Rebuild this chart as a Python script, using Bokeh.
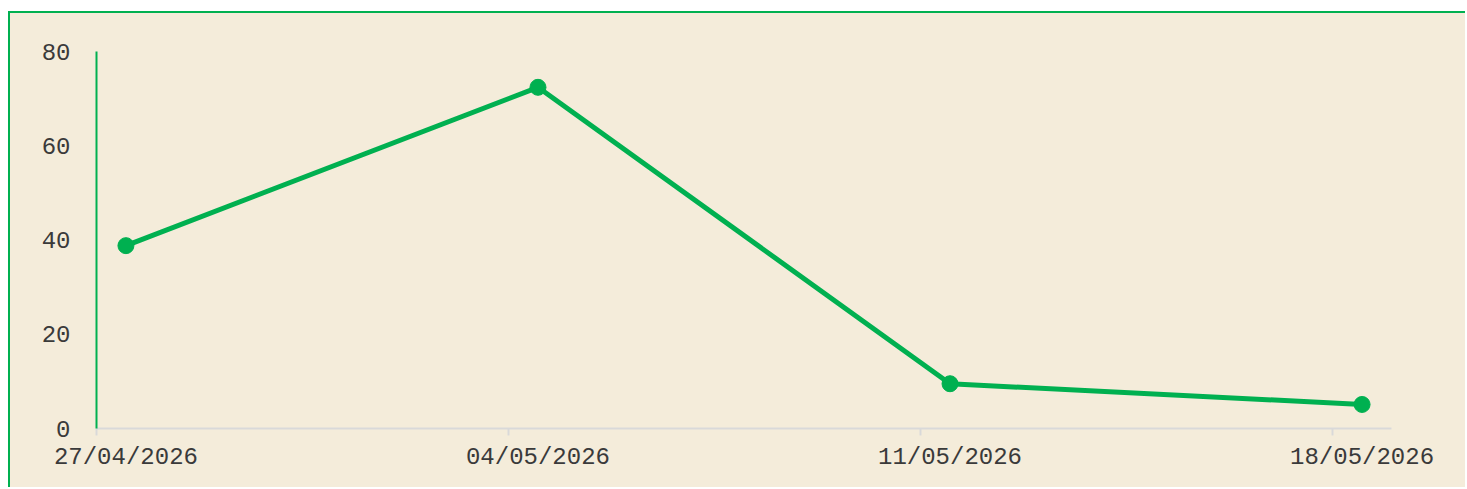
import pandas as pd
from bokeh.plotting import figure
from bokeh.models import FixedTicker, DatetimeTickFormatter, Range1d, ColumnDataSource
from bokeh.embed import file_html
from bokeh.resources import INLINE

# Data
dates = ["2026-04-27", "2026-05-04", "2026-05-11", "2026-05-18"]
values = [38.8, 72.4, 9.5, 5.1]
y_ticks = [0, 20, 40, 60, 80]
x_start = "2026-04-27"
x_end = "2026-05-19"

GREEN = "#00B050"
BG = "#F4ECDA"
FONT = "Liberation Mono"
TXT = "#3A3A3A"

d = pd.to_datetime(dates)
mid = d + pd.Timedelta(hours=12)
src = ColumnDataSource(dict(x=mid, y=values))

p = figure(width=1457, height=476, x_axis_type="datetime",
           output_backend="svg", toolbar_location=None,
           x_range=Range1d(pd.Timestamp(x_start), pd.Timestamp(x_end)),
           y_range=Range1d(0, 80),
           min_border_left=86, min_border_right=76,
           min_border_top=38, min_border_bottom=61)

p.styles = {"border-top": "2px solid " + GREEN, "border-left": "2px solid " + GREEN,
            "margin-top": "11px", "margin-left": "8px", "background-color": BG}

p.background_fill_color = BG
p.border_fill_color = BG
p.outline_line_color = None
p.xgrid.grid_line_color = None
p.ygrid.grid_line_color = None

p.line("x", "y", source=src, line_width=5, line_color=GREEN)
p.scatter("x", "y", source=src, size=16, fill_color=GREEN, line_color=GREEN)

# X axis
xa = p.xaxis[0]
xa.ticker = FixedTicker(ticks=[t.value // 10**6 for t in mid],
                        minor_ticks=[t.value // 10**6 for t in d])
fmt = "%d/%m/%Y"
xa.formatter = DatetimeTickFormatter(microseconds=fmt, milliseconds=fmt, seconds=fmt,
                                     minsec=fmt, minutes=fmt, hourmin=fmt, hours=fmt,
                                     days=fmt, months=fmt, years=fmt)
xa.axis_line_color = "#D9D9D9"
xa.axis_line_width = 2
xa.major_tick_line_color = None
xa.major_tick_out = 0
xa.major_tick_in = 0
xa.minor_tick_line_color = "#D9D9D9"
xa.minor_tick_line_width = 2
xa.minor_tick_out = 7
xa.minor_tick_in = 0
xa.major_label_standoff = 8
xa.major_label_text_font = FONT
xa.major_label_text_font_size = "24px"
xa.major_label_text_color = TXT

# Y axis
ya = p.yaxis[0]
ya.ticker = FixedTicker(ticks=y_ticks, minor_ticks=[])
ya.axis_line_color = GREEN
ya.axis_line_width = 2
ya.major_tick_line_color = None
ya.major_tick_out = 0
ya.major_tick_in = 0
ya.minor_tick_line_color = None
ya.major_label_standoff = 26
ya.major_label_text_font = FONT
ya.major_label_text_font_size = "24px"
ya.major_label_text_color = TXT

open("out.html", "w").write(file_html(p, INLINE))
